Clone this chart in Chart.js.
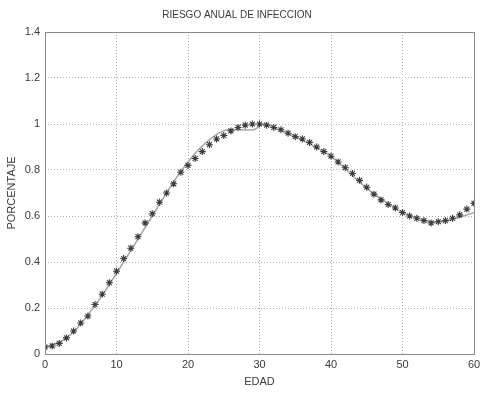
<!DOCTYPE html>
<html>
<head>
<meta charset="utf-8">
<script src="https://cdn.jsdelivr.net/npm/chart.js@4"></script>
<style>
  html, body { margin: 0; padding: 0; background: #fff; }
  #wrap { width: 487px; height: 397px; position: relative; }
</style>
</head>
<body>
<div id="wrap"><canvas id="riesgoChart"></canvas></div>
<script>
// Ages (years) for the observed points
const edades = [
  0, 1, 2, 3, 4, 5, 6, 7, 8, 9, 10, 11, 12, 13, 14, 15, 16, 17, 18, 19, 20,
  21, 22, 23, 24, 25, 26, 27, 28, 29, 30, 31, 32, 33, 34, 35, 36, 37, 38, 39, 40,
  41, 42, 43, 44, 45, 46, 47, 48, 49, 50, 51, 52, 53, 54, 55, 56, 57, 58, 59, 60
]
// Observed values (star markers)
const observado = [
  0.03, 0.035, 0.046, 0.07, 0.10, 0.135, 0.165, 0.215, 0.26, 0.31, 0.36,
  0.415, 0.46, 0.51, 0.57, 0.61, 0.66, 0.70, 0.74, 0.79, 0.82,
  0.85, 0.88, 0.91, 0.935, 0.95, 0.97, 0.985, 0.995, 1.0, 1.0,
  0.995, 0.985, 0.975, 0.96, 0.945, 0.935, 0.92, 0.90, 0.88, 0.86,
  0.835, 0.81, 0.785, 0.755, 0.725, 0.695, 0.67, 0.65, 0.635, 0.615,
  0.60, 0.59, 0.58, 0.57, 0.575, 0.58, 0.59, 0.605, 0.63, 0.655
]
// Fitted curve (solid line)
const edadesAjuste = [0, 2, 4, 6, 8, 10, 12, 14, 16, 18, 20, 22, 24, 25.5, 29.2, 30.5, 32, 35, 40, 45, 50, 54, 57, 60]
const ajuste = [0.03, 0.05, 0.095, 0.17, 0.255, 0.35, 0.45, 0.55, 0.65, 0.75, 0.835, 0.905, 0.955, 0.975, 0.975, 1.0, 0.985, 0.945, 0.86, 0.72, 0.615, 0.575, 0.585, 0.615]

const xTicks = [0, 10, 20, 30, 40, 50, 60]
const yTicks = [0, 0.2, 0.4, 0.6, 0.8, 1, 1.2, 1.4]

const textColor = '#3a3a3a'
const gridColor = '#b0b0b0'
const fontFamily = 'Liberation Sans, Arial, sans-serif'

// box around the plot area, like matlab's "box on"
const frame = {
  id: 'frame',
  afterDatasetsDraw(chart) {
    const { ctx, chartArea: a } = chart
    ctx.save()
    ctx.strokeStyle = '#8a8a8a'
    ctx.lineWidth = 1
    ctx.strokeRect(a.left + 0.5, a.top + 0.5, a.right - a.left, a.bottom - a.top)
    ctx.restore()
  }
}

new Chart(document.getElementById('riesgoChart'), {
  type: 'scatter',
  data: {
    datasets: [
      {
        label: 'Observado',
        data: edades.map((e, i) => ({ x: e, y: observado[i] })),
        pointStyle: 'star',
        pointRadius: 3.5,
        borderColor: '#3c3c3c',
        backgroundColor: '#3c3c3c',
        borderWidth: 1.1,
        showLine: false,
        order: 0
      },
      {
        label: 'Ajuste',
        data: edadesAjuste.map((e, i) => ({ x: e, y: ajuste[i] })),
        showLine: true,
        pointRadius: 0,
        borderColor: '#a8a8a8',
        borderWidth: 1.5,
        tension: 0.2,
        order: 1
      }
    ]
  },
  options: {
    responsive: true,
    maintainAspectRatio: false,
    animation: false,
    layout: { padding: { left: 0, right: 13, top: 0, bottom: 0 } },
    plugins: {
      legend: { display: false },
      tooltip: { enabled: false },
      title: {
        display: true,
        text: 'RIESGO ANUAL DE INFECCION',
        color: textColor,
        font: { family: fontFamily, size: 10, weight: 'normal' },
        padding: { top: 9, bottom: 11 }
      }
    },
    scales: {
      x: {
        type: 'linear',
        min: 0,
        max: 60,
        afterFit: (s) => { s.height = 43 },
        afterBuildTicks: (s) => { s.ticks = xTicks.map((v) => ({ value: v })) },
        grid: { color: gridColor, drawTicks: false },
        border: { display: false, dash: [1, 2] },
        ticks: {
          color: textColor,
          padding: 4,
          maxRotation: 0,
          font: { family: fontFamily, size: 11 }
        },
        title: {
          display: true,
          text: 'EDAD',
          color: textColor,
          font: { family: fontFamily, size: 11 },
          padding: { top: 0, bottom: 8 }
        }
      },
      y: {
        min: 0,
        max: 1.4,
        afterFit: (s) => { s.width = 45 },
        afterBuildTicks: (s) => { s.ticks = yTicks.map((v) => ({ value: v })) },
        grid: { color: gridColor, drawTicks: false },
        border: { display: false, dash: [1, 2] },
        ticks: {
          color: textColor,
          padding: 5,
          font: { family: fontFamily, size: 11 },
          callback: (v) => String(Math.round(v * 10) / 10)
        },
        title: {
          display: true,
          text: 'PORCENTAJE',
          color: textColor,
          font: { family: fontFamily, size: 11 },
          padding: { top: 5, bottom: 0 }
        }
      }
    }
  },
  plugins: [frame]
})
</script>
</body>
</html>
